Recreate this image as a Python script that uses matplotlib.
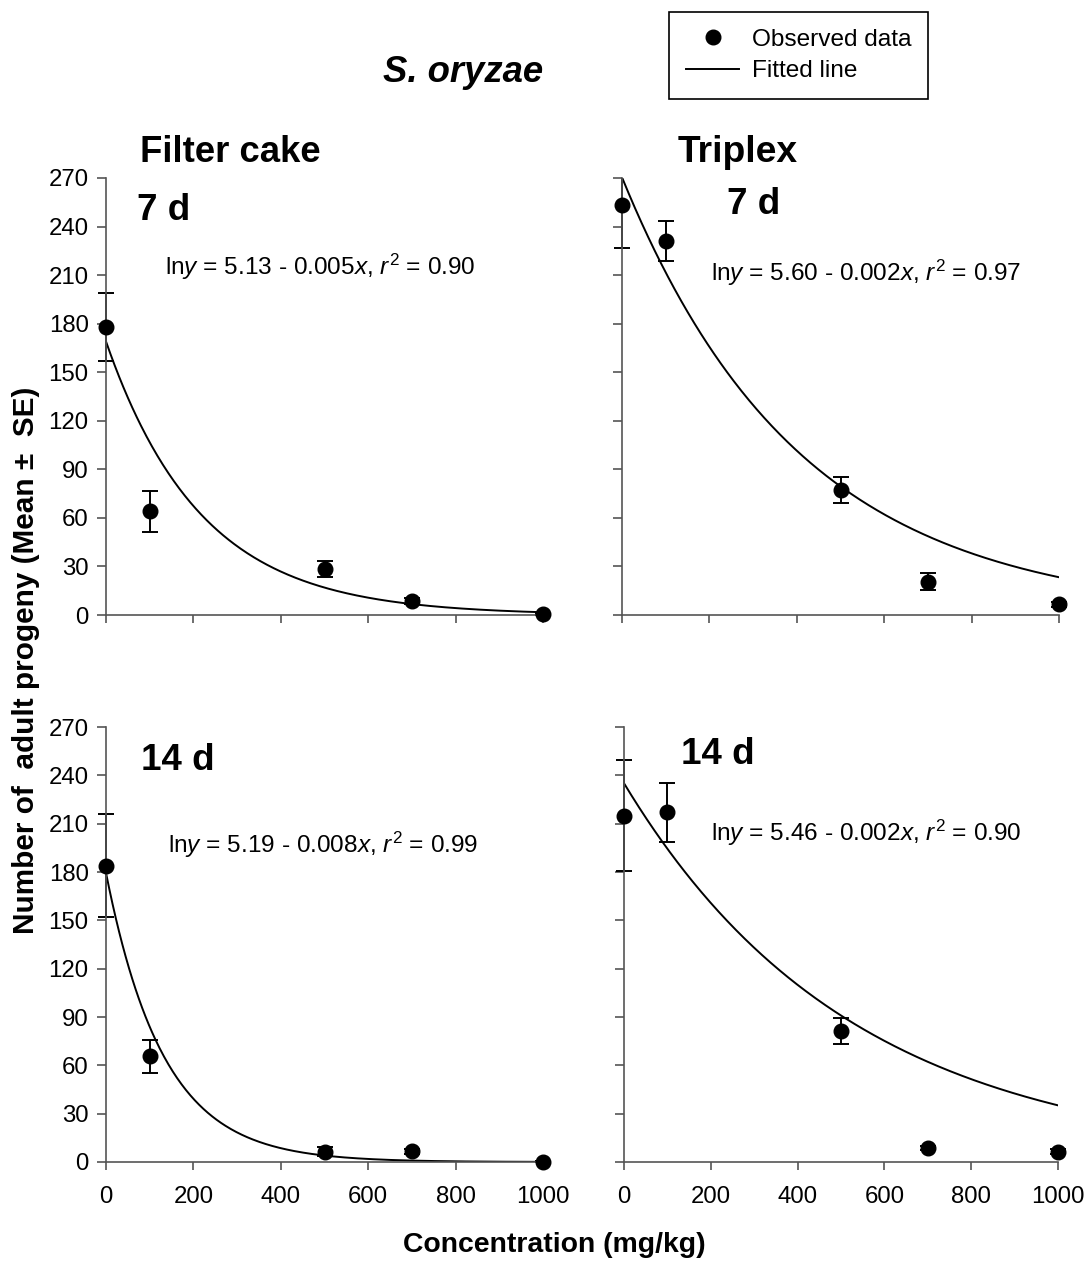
import numpy as np
import matplotlib
matplotlib.use("Agg")
import matplotlib.pyplot as plt
from matplotlib.transforms import Bbox, TransformedBbox

plt.rcParams['font.family'] = ['Liberation Sans', 'DejaVu Sans']
plt.rcParams['mathtext.fontset'] = 'custom'
plt.rcParams['mathtext.rm'] = 'Liberation Sans'
plt.rcParams['mathtext.it'] = 'Liberation Sans:italic'

# concentrations (mg/kg)
conc = [0, 100, 500, 700, 1000]

# mean adult progeny and SE
filter_7d = [178, 64, 28.5, 8.8, 0.5]
filter_7d_se = [21, 12.5, 4.8, 2, 0.5]
triplex_7d = [253.5, 231, 77, 20.5, 6.5]
triplex_7d_se = [27, 12.5, 8, 5.3, 1.5]
filter_14d = [184, 65.5, 6.5, 6.7, 0.3]
filter_14d_se = [32, 10.2, 3, 1.5, 0.3]
triplex_14d = [215, 217, 81.5, 8.7, 6.4]
triplex_14d_se = [34.5, 18.3, 8, 1.5, 1.5]

# ln y = a - b x fits
fit_a = [5.13, 5.60, 5.19, 5.46]
fit_b = [0.0046, 0.00245, 0.0076, 0.0019]
fit_r2 = [0.90, 0.97, 0.99, 0.90]

W, H = 1089, 1262
fig = plt.figure(figsize=(W / 100, H / 100), dpi=100)


def px(x, y):
    return x / W, 1 - y / H


def box(x0, y0, x1, y1):
    return [x0 / W, 1 - y1 / H, (x1 - x0) / W, (y1 - y0) / H]


panels = [
    (box(106, 178, 543, 615), filter_7d, filter_7d_se, (165, 267), '7 d', (164, 210)),
    (box(622, 178, 1059, 615), triplex_7d, triplex_7d_se, (711, 273), '7 d', (754, 205)),
    (box(106, 727, 543, 1162), filter_14d, filter_14d_se, (168, 845), '14 d', (178, 760)),
    (box(624, 727, 1058, 1162), triplex_14d, triplex_14d_se, (711, 833), '14 d', (718, 755)),
]

axc = '#555555'
xx = np.linspace(0, 1000, 400)
axes = []
for i, (rect, mean, se, eqpos, day, daypos) in enumerate(panels):
    ax = fig.add_axes(rect)
    axes.append(ax)
    eb = ax.errorbar(conc, mean, yerr=se, fmt='none', ecolor='black',
                     elinewidth=1.4, capsize=6, capthick=1.4)
    # let caps on the y axis show fully, but cut anything above the top
    clip = TransformedBbox(Bbox([[-0.05, -0.05], [1.05, 1.0]]), ax.transAxes)
    for art in list(eb[1]) + list(eb[2]):
        art.set_clip_box(clip)
    ax.plot(conc, mean, 'o', color='black', ms=10.5, clip_on=False, zorder=3,
            label='Observed data')
    ax.plot(xx, np.exp(fit_a[i] - fit_b[i] * xx), color='black', lw=1.4,
            label='Fitted line')

    ax.set_xlim(0, 1000)
    ax.set_ylim(0, 270)
    ax.set_xticks(np.arange(0, 1001, 200))
    ax.set_yticks(np.arange(0, 271, 30))
    for s in ['top', 'right']:
        ax.spines[s].set_visible(False)
    for s in ['left', 'bottom']:
        ax.spines[s].set_color(axc)
        ax.spines[s].set_linewidth(1.2)
    ax.tick_params(axis='y', direction='out', length=6.5, width=1.2, color=axc,
                   labelsize=17.3, pad=6)
    ax.tick_params(axis='x', direction='out', length=6, width=1.2, color=axc,
                   labelsize=17.3, pad=11)
    if i < 2:
        ax.tick_params(axis='x', labelbottom=False)
    if i % 2 == 1:
        ax.tick_params(axis='y', labelleft=False)

    eq = (r'ln$y$ = %.2f - %.3f$x$, $r^2$ = %.2f'
          % (fit_a[i], fit_b[i], fit_r2[i]))
    fig.text(*px(*eqpos), eq, fontsize=17.6, ha='left', va='center')
    fig.text(*px(*daypos), day, fontsize=26.5, fontweight='bold',
             ha='center', va='center')

fig.text(*px(230, 153), 'Filter cake', fontsize=26.3, fontweight='bold',
         ha='center', va='center')
fig.text(*px(738, 152), 'Triplex', fontsize=26.8, fontweight='bold',
         ha='center', va='center')
fig.text(*px(463, 72), 'S. oryzae', fontsize=26.3, fontweight='bold',
         fontstyle='italic', ha='center', va='center')
fig.text(*px(554, 1245), 'Concentration (mg/kg)', fontsize=20.4,
         fontweight='bold', ha='center', va='center')
fig.text(*px(26, 660), 'Number of  adult progeny (Mean \u00b1  SE)', fontsize=21.4,
         fontweight='bold', ha='center', va='center', rotation=90)

handles, labels = axes[0].get_legend_handles_labels()
leg = fig.legend(handles, labels, loc='upper left', bbox_to_anchor=px(669, 12),
                 borderaxespad=0, fontsize=17.6, frameon=True, fancybox=False,
                 edgecolor='black', framealpha=1, borderpad=0.68,
                 handlelength=2.2, handletextpad=0.5, labelspacing=0.38)
leg.get_frame().set_linewidth(1.2)

fig.savefig('out.png', dpi=100)
